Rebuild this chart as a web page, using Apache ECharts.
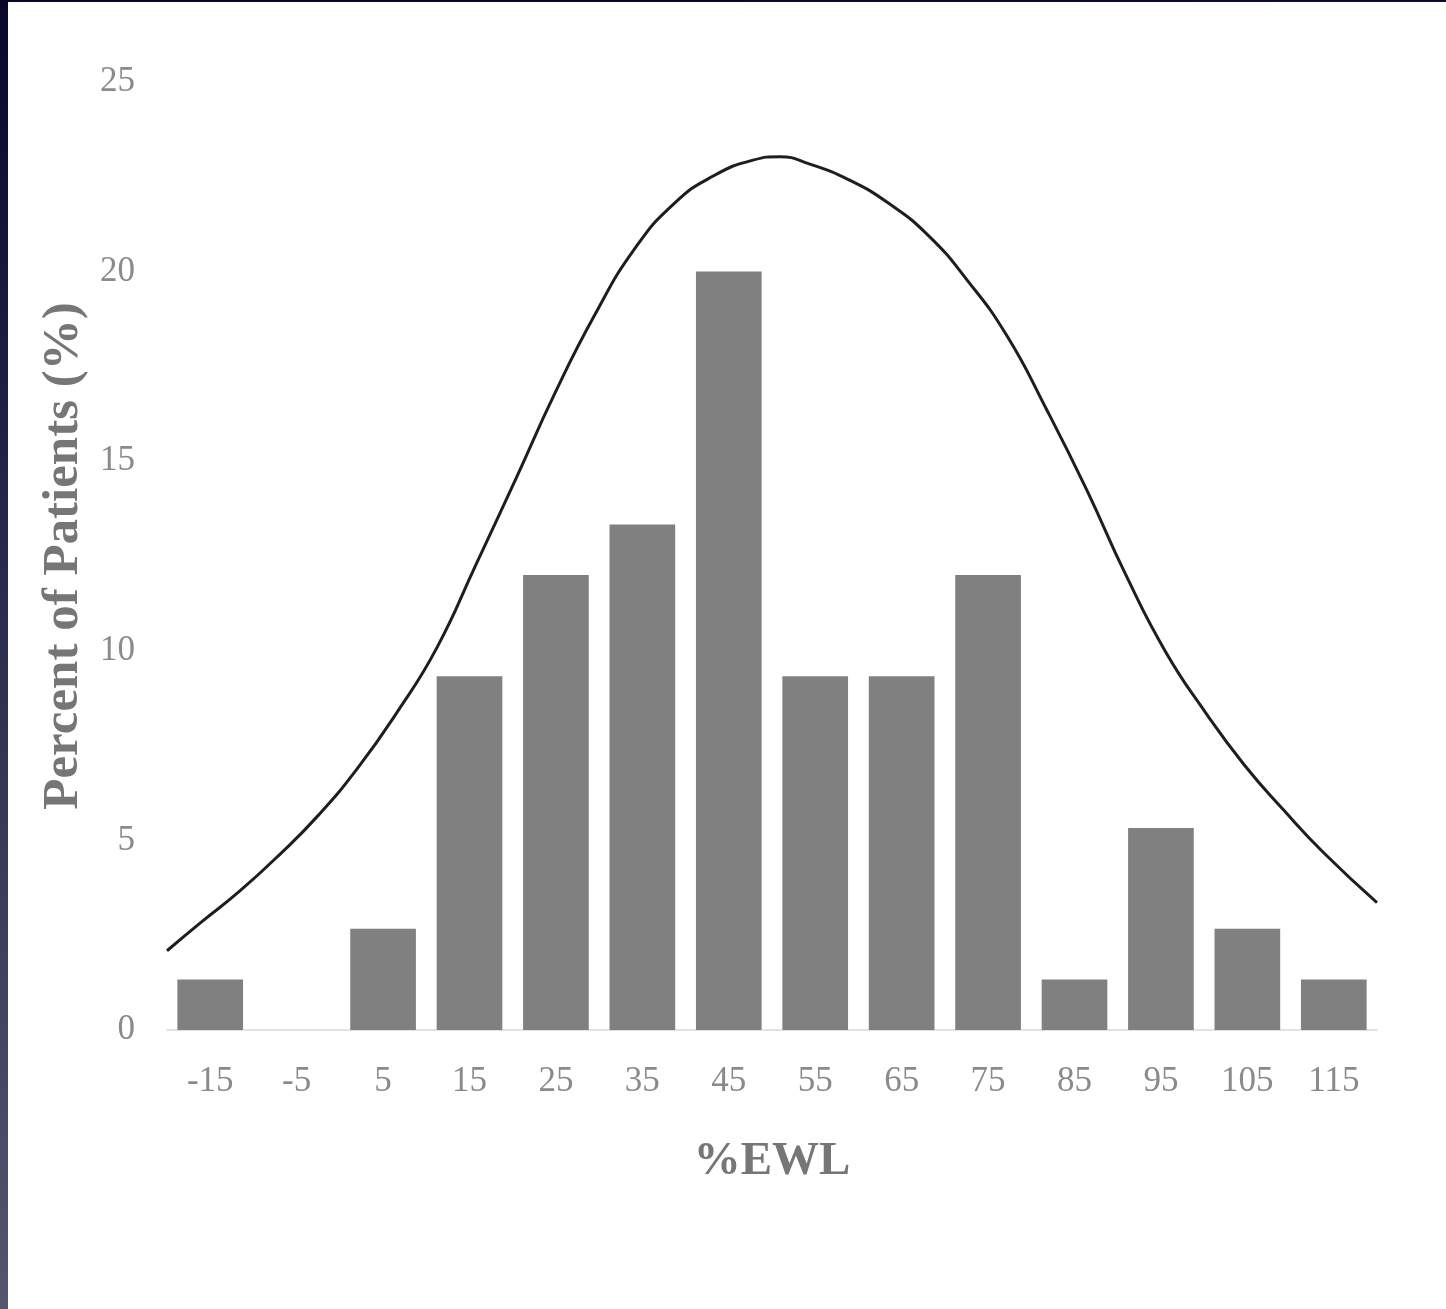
<!DOCTYPE html>
<html>
<head>
<meta charset="utf-8">
<script src="https://cdn.jsdelivr.net/npm/echarts@6/dist/echarts.min.js"></script>
<style>
  html, body { margin: 0; padding: 0; background: #ffffff; }
  #wrap { position: relative; width: 1446px; height: 1309px; overflow: hidden; }
  #chart { position: absolute; left: 0; top: 0; width: 1446px; height: 1309px; }
  #edgeLeft { position: absolute; left: 0; top: 0; width: 8px; height: 1309px;
    background: linear-gradient(to bottom, #08072a 0%, #2a2a4c 45%, #55556f 100%); }
  #edgeTop { position: absolute; left: 0; top: 0; width: 1446px; height: 2px;
    background: linear-gradient(to right, #08072a, #0c0b2c); }
</style>
</head>
<body>
<div id="wrap">
  <div id="chart"></div>
  <div id="edgeLeft"></div>
  <div id="edgeTop"></div>
</div>
<script>
// Histogram bins (%EWL bin centres) and percent of patients
var categories = ['-15', '-5', '5', '15', '25', '35', '45', '55', '65', '75', '85', '95', '105', '115'];
var percentPatients = [1.33, 0, 2.67, 9.33, 12.0, 13.33, 20.0, 9.33, 9.33, 12.0, 1.33, 5.33, 2.67, 1.33];

// Fitted curve, points (x in %EWL, y in %)
var curveX = [-20, -16, -11.6, -7, -2.5, 2.1, 6.65, 11.2, 15.8, 20.35, 24.9, 29.5, 34.1, 38.7, 43.2, 47.8, 50.9,
              54.3, 58.9, 63.5, 68.1, 72.6, 77.2, 81.8, 86.4, 90.9, 95.5, 100.1, 104.65, 109.2, 113.8, 120];
var curveY = [2.09, 2.85, 3.66, 4.62, 5.66, 6.92, 8.39, 10.07, 12.3, 14.53, 16.8, 18.86, 20.6, 21.8, 22.52, 22.94, 23.03,
              22.84, 22.42, 21.8, 20.95, 19.77, 18.3, 16.35, 14.25, 12.02, 9.99, 8.39, 6.99, 5.8, 4.68, 3.36];

var yTicks = [0, 5, 10, 15, 20, 25];

var curveData = curveX.map(function (x, i) { return [x, curveY[i]]; });

var chart = echarts.init(document.getElementById('chart'), null, { renderer: 'canvas' });
var serif = '"Liberation Serif", "DejaVu Serif", serif';

chart.setOption({
  backgroundColor: 'transparent',
  animation: false,
  grid: { left: 167, right: 69, top: 82, bottom: 279, containLabel: false },
  xAxis: [
    {
      type: 'category',
      data: categories,
      boundaryGap: true,
      name: '%EWL',
      nameLocation: 'middle',
      nameGap: 108,
      nameTextStyle: { fontFamily: serif, fontWeight: 'bold', fontSize: 47, color: '#767676' },
      axisLine: { show: true, lineStyle: { color: '#e2e2e2', width: 2 } },
      axisTick: { show: false },
      axisLabel: { fontFamily: serif, fontSize: 35, color: '#8a8a8a', margin: 34 },
      splitLine: { show: false }
    },
    {
      type: 'value',
      min: -20,
      max: 120,
      show: false
    }
  ],
  yAxis: {
    type: 'value',
    min: yTicks[0],
    max: yTicks[yTicks.length - 1],
    interval: 5,
    name: 'Percent of Patients (%)',
    nameLocation: 'middle',
    nameGap: 71,
    nameTextStyle: { fontFamily: serif, fontWeight: 'bold', fontSize: 51, color: '#767676' },
    axisLine: { show: false },
    axisTick: { show: false },
    splitLine: { show: false },
    axisLabel: { fontFamily: serif, fontSize: 35, color: '#8a8a8a', margin: 32 }
  },
  series: [
    {
      type: 'bar',
      xAxisIndex: 0,
      data: percentPatients,
      barWidth: '76%',
      itemStyle: { color: '#808080' }
    },
    {
      type: 'line',
      xAxisIndex: 1,
      data: curveData,
      smooth: 0.5,
      symbol: 'none',
      lineStyle: { color: '#1e1e1e', width: 3 },
      z: 5
    }
  ]
});
</script>
</body>
</html>
